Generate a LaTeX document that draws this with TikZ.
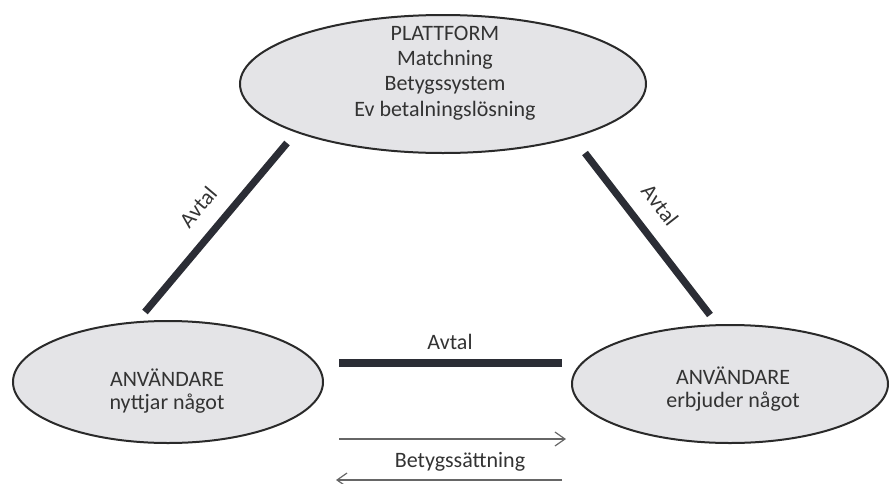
\documentclass[tikz,border=0pt]{standalone}
\usepackage{fontspec}
\setmainfont{Carlito}
\usetikzlibrary{shapes.geometric,arrows.meta}
\definecolor{fillg}{HTML}{E4E4E7}
\definecolor{edgeg}{HTML}{2A2A2A}
\definecolor{barc}{HTML}{2B2D35}
\definecolor{txt}{HTML}{333333}
\definecolor{arrc}{HTML}{666666}
\tikzset{
  oval/.style={ellipse, draw=edgeg, line width=1pt, fill=fillg, inner sep=0pt},
  ovaltext/.style={align=center, text=txt, font=\fontsize{11}{12.6}\selectfont, inner sep=0pt},
  bar/.style={draw=barc, line width=3.6pt},
  lbl/.style={text=txt, font=\fontsize{11}{12}\selectfont, inner sep=0pt},
  thinarrow/.style={draw=arrc, line width=0.6pt, -{Straight Barb[length=5pt,width=7pt]}}
}
\begin{document}
\begin{tikzpicture}[x=0.5pt,y=-0.5pt]
\useasboundingbox (0,0) rectangle (890,483);
% ellipses
\node[oval, minimum width=203pt, minimum height=69pt] (top) at (443,84) {};
\node[oval, minimum width=155pt, minimum height=61pt] (usr1) at (168,382) {};
\node[oval, minimum width=158pt, minimum height=59pt] (usr2) at (730,384) {};
% texts
\node[ovaltext] (toptext) at (445,73) {PLATTFORM\\Matchning\\Betygssystem\\Ev betalningslösning};
\node[ovaltext, font=\fontsize{11}{11.3}\selectfont] (usr1text) at (167,391) {ANVÄNDARE\\nyttjar något};
\node[ovaltext, font=\fontsize{11}{11.3}\selectfont] (usr2text) at (733,389) {ANVÄNDARE\\erbjuder något};
% bar end points
\coordinate (la) at (145,312);
\coordinate (lb) at (287,143);
\coordinate (ra) at (585,153);
\coordinate (rb) at (710,315);
\coordinate (ha) at (339,363);
\coordinate (hb) at (562,363);
\draw[bar] (la) -- (lb);
\draw[bar] (ra) -- (rb);
\draw[bar] (ha) -- (hb);
% labels
\node[lbl, rotate=50] (avtalL) at (198,207) {Avtal};
\node[lbl, rotate=-52] (avtalR) at (660,205) {Avtal};
\node[lbl] (avtalH) at (450,342) {Avtal};
\node[lbl] (betyg) at (460,462) {Betygssättning};
% arrows
\coordinate (a1s) at (339,439);
\coordinate (a1e) at (566,439);
\coordinate (a2s) at (562,480);
\coordinate (a2e) at (336,480);
\draw[thinarrow] (a1s) -- (a1e);
\draw[thinarrow] (a2s) -- (a2e);
\end{tikzpicture}
\end{document}
